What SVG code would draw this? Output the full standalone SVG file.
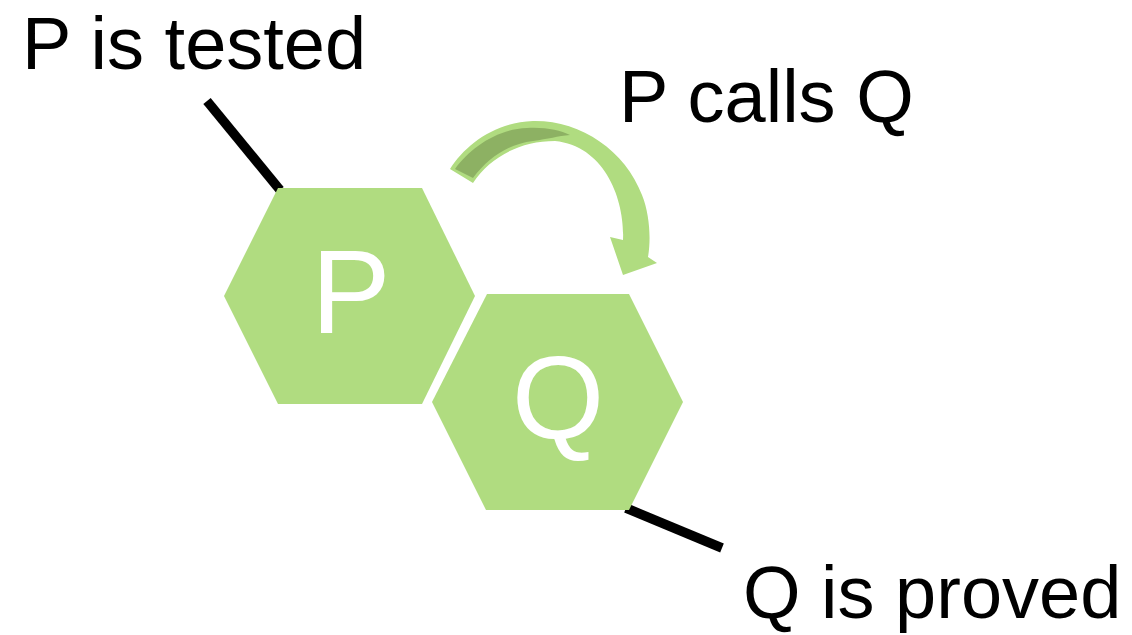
<svg xmlns="http://www.w3.org/2000/svg" width="1132" height="635" viewBox="0 0 1132 635">
  <style>
    .hex { fill: #b0dc80; }
    .hex-label { font-family: "Liberation Sans", Arial, sans-serif; font-size: 119px; fill: #ffffff; text-anchor: middle; }
    .label { font-family: "Liberation Sans", Arial, sans-serif; font-size: 74px; fill: #000000; }
    .lead { stroke: #000000; stroke-width: 9.5; fill: none; stroke-linecap: butt; }
    .arrow { fill: #b0dc80; }
    .arrow-back { fill: #8db163; }
  </style>
  <rect width="1132" height="635" fill="#ffffff"/>

  <!-- connectors: lead lines and the curved call arrow -->
  <g id="connectors">
    <line class="lead" x1="207" y1="101" x2="280" y2="190"/>
    <line class="lead" x1="626" y1="508" x2="722" y2="548"/>
    <g id="call-arrow">
      <path class="arrow" d="M450,169 C465,145 495,122 533,121 C580,120 625,150 642,195 C650,215 651,240 648,257 L657,263 L623,275 L610,237 L623,240 C625,200 605,146 555,141 C520,141 490,157 473,183 Z"/>
      <!-- twisted underside of the ribbon near the tail -->
      <path class="arrow-back" d="M455,169 C470,148 497,129 527,128 C545,127 560,130 570,135 C558,136 548,139 533,141 C508,144 488,158 473,178 Z"/>
    </g>
  </g>

  <g id="node-P">
    <polygon class="hex" points="278,188 422,188 475,296 422,404 278,404 224,296"/>
    <text class="hex-label" x="351" y="333">P</text>
  </g>

  <g id="node-Q">
    <polygon class="hex" points="487,294 629,294 683,402 629,510 486,510 432,402"/>
    <text class="hex-label" x="558" y="439">Q</text>
  </g>

  <g id="labels">
    <text class="label" x="22" y="69">P is tested</text>
    <text class="label" x="619" y="122">P calls Q</text>
    <text class="label" x="743" y="618">Q is proved</text>
  </g>
</svg>
